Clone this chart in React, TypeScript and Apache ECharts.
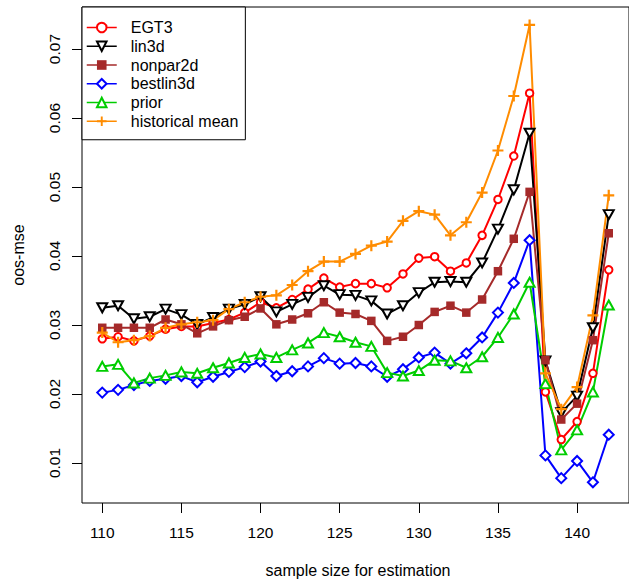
import React, { useEffect, useRef } from "react";
import * as echarts from "echarts";

const sampleSizes = [110, 111, 112, 113, 114, 115, 116, 117, 118, 119, 120, 121, 122, 123, 124, 125, 126, 127, 128, 129, 130, 131, 132, 133, 134, 135, 136, 137, 138, 139, 140, 141, 142];

const egt3 = [0.0280, 0.0283, 0.0277, 0.0284, 0.0294, 0.0298, 0.0298, 0.0303, 0.0308, 0.0318, 0.0333, 0.0325, 0.0337, 0.0352, 0.0368, 0.0355, 0.0360, 0.0360, 0.0354, 0.0374, 0.0397, 0.0399, 0.0378, 0.0390, 0.0430, 0.0482, 0.0545, 0.0636, 0.0203, 0.0134, 0.0160, 0.0230, 0.0380];
const lin3d = [0.0325, 0.0328, 0.0309, 0.0312, 0.0323, 0.0315, 0.0301, 0.0311, 0.0323, 0.0330, 0.0341, 0.0319, 0.0330, 0.0340, 0.0357, 0.0344, 0.0343, 0.0335, 0.0316, 0.0328, 0.0347, 0.0362, 0.0363, 0.0362, 0.0390, 0.0439, 0.0496, 0.0578, 0.0248, 0.0173, 0.0197, 0.0296, 0.0460];
const nonpar2d = [0.0296, 0.0296, 0.0296, 0.0296, 0.0308, 0.0301, 0.0288, 0.0298, 0.0307, 0.0312, 0.0324, 0.0301, 0.0308, 0.0317, 0.0333, 0.0318, 0.0316, 0.0306, 0.0277, 0.0283, 0.0300, 0.0319, 0.0328, 0.0318, 0.0337, 0.0378, 0.0425, 0.0493, 0.0249, 0.0163, 0.0186, 0.0278, 0.0433];
const bestlin3d = [0.0202, 0.0206, 0.0213, 0.0219, 0.0222, 0.0226, 0.0217, 0.0225, 0.0232, 0.0239, 0.0247, 0.0226, 0.0233, 0.0240, 0.0252, 0.0244, 0.0245, 0.0240, 0.0225, 0.0236, 0.0253, 0.0260, 0.0244, 0.0259, 0.0282, 0.0318, 0.0361, 0.0423, 0.0111, 0.0078, 0.0103, 0.0072, 0.0141];
const prior = [0.0240, 0.0243, 0.0216, 0.0223, 0.0227, 0.0232, 0.0230, 0.0238, 0.0245, 0.0253, 0.0258, 0.0253, 0.0264, 0.0274, 0.0289, 0.0283, 0.0275, 0.0269, 0.0231, 0.0226, 0.0234, 0.0249, 0.0248, 0.0238, 0.0254, 0.0282, 0.0316, 0.0362, 0.0215, 0.0119, 0.0148, 0.0203, 0.0329];
const historicalMean = [0.0289, 0.0275, 0.0278, 0.0284, 0.0296, 0.0301, 0.0304, 0.0307, 0.0323, 0.0333, 0.0341, 0.0343, 0.0358, 0.0378, 0.0392, 0.0392, 0.0403, 0.0415, 0.0421, 0.0451, 0.0465, 0.0460, 0.0430, 0.0449, 0.0492, 0.0553, 0.0632, 0.0735, 0.0230, 0.0178, 0.0210, 0.0314, 0.0488];

const xTicks = [110, 115, 120, 125, 130, 135, 140];
const yTicks = [0.01, 0.02, 0.03, 0.04, 0.05, 0.06, 0.07];

const FONT = "'Liberation Sans', Arial, Helvetica, sans-serif";

export default function App() {
  const ref = useRef<HTMLDivElement>(null);
  useEffect(() => {
    if (!ref.current) return;
    const chart = echarts.init(ref.current, null, { renderer: "svg" });
    const mk = (name: string, vals: number[], color: string, symbol: string, size: number | number[], extra: any = {}) => ({
      name,
      type: "line",
      data: sampleSizes.map((x, i) => [x, vals[i]]),
      symbol,
      symbolSize: size,
      showAllSymbol: true,
      lineStyle: { color, width: 2 },
      itemStyle: { color, borderColor: color, borderWidth: 1.8 },
      emphasis: { disabled: true },
      ...extra,
    });
    chart.setOption({
      animation: false,
      grid: { left: 82, top: 7, width: 552.5, height: 496, show: true, borderColor: "#000", borderWidth: 1, backgroundColor: "transparent" },
      xAxis: {
        type: "value",
        min: 108.72,
        max: 143.28,
        axisLine: { show: false },
        splitLine: { show: false },
        axisTick: { show: true, length: 10, customValues: xTicks, lineStyle: { color: "#000", width: 1 } },
        axisLabel: { customValues: xTicks, fontSize: 15.5, margin: 21, color: "#000", fontFamily: FONT },
      },
      yAxis: {
        type: "value",
        min: 0.0042,
        max: 0.0761,
        axisLine: { show: false },
        splitLine: { show: false },
        axisTick: { show: true, length: 10, customValues: yTicks, lineStyle: { color: "#000", width: 1 } },
        axisLabel: {
          customValues: yTicks,
          rotate: 90,
          fontSize: 15.5,
          margin: 20,
          color: "#000",
          fontFamily: FONT,
          formatter: (v: number) => v.toFixed(2),
        },
      },
      legend: {
        orient: "vertical",
        left: 82,
        top: 7,
        itemWidth: 30,
        itemHeight: 12,
        itemGap: 2.75,
        padding: [12.5, 7, 10.5, 4],
        borderColor: "#000",
        borderWidth: 1,
        borderRadius: 0,
        backgroundColor: "#fff",
        lineStyle: { width: 1.5 },
        textStyle: { fontSize: 16, color: "#000", fontFamily: FONT, padding: [0, 0, 0, 9] },
        data: ["EGT3", "lin3d", "nonpar2d", "bestlin3d", "prior", "historical mean"],
        selectedMode: false,
      },
      graphic: [
        {
          type: "text",
          x: 358,
          y: 570,
          style: { text: "sample size for estimation", fontSize: 16, fill: "#000", fontFamily: FONT, align: "center", verticalAlign: "middle" },
        },
        {
          type: "text",
          x: 18,
          y: 255,
          rotation: Math.PI / 2,
          style: { text: "oos-mse", fontSize: 16, fill: "#000", fontFamily: FONT, align: "center", verticalAlign: "middle" },
        },
      ],
      series: [
        mk("EGT3", egt3, "#FF0000", "emptyCircle", 7.5),
        mk("lin3d", lin3d, "#000000", "emptyTriangle", [10, 9], { symbolRotate: 180 }),
        mk("nonpar2d", nonpar2d, "#A52A2A", "rect", 8.5, { itemStyle: { color: "#A52A2A", borderColor: "#A52A2A", borderWidth: 0 } }),
        mk("bestlin3d", bestlin3d, "#0000FF", "emptyDiamond", 10),
        mk("prior", prior, "#00CD00", "emptyTriangle", [10, 9]),
        mk("historical mean", historicalMean, "#FF8C00", "path://M4,0H6V4H10V6H6V10H4V6H0V4H4Z", 11, { itemStyle: { color: "#FF8C00", borderWidth: 0 } }),
      ],
    });
    return () => chart.dispose();
  }, []);
  return <div ref={ref} style={{ position: "absolute", left: 0, top: 0, width: 629, height: 579 }} />;
}
